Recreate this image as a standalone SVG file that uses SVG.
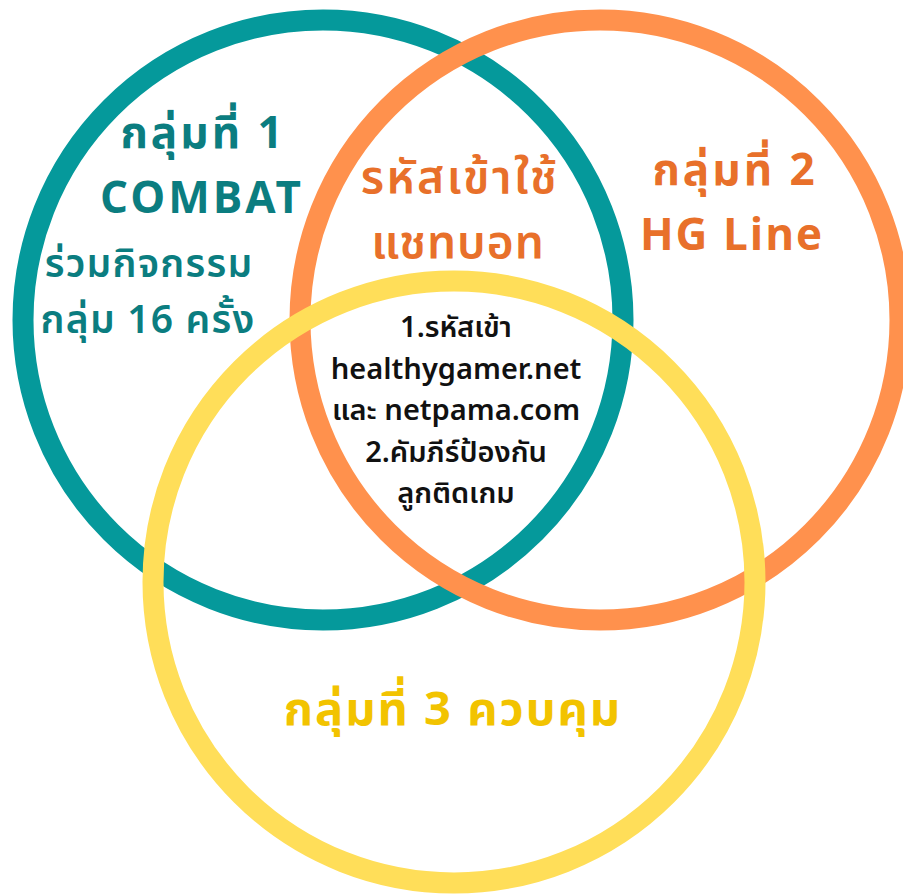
<svg xmlns="http://www.w3.org/2000/svg" width="903" height="894" viewBox="0 0 903 894">
<style>
.ring{fill:none;stroke-width:21}
.t{font-family:"Noto Sans Thai","Noto Sans","Liberation Sans",sans-serif;text-anchor:middle}
.h{font-weight:700;font-size:44px;letter-spacing:3px}
.s{font-weight:600;font-size:39px;letter-spacing:1.2px}
.teal{fill:#0B7D80}
.org{fill:#E8702A}
.yel{fill:#F2C300}
.blk{fill:#111;font-weight:600;font-size:29px}
</style>
<rect width="903" height="894" fill="#fff"/>
<g id="circle-1"><circle class="ring" cx="323" cy="320" r="300" stroke="#05999B"/></g>
<g id="circle-2"><circle class="ring" cx="600" cy="320" r="300" stroke="#FF914D"/></g>
<g id="circle-3"><circle class="ring" cx="454" cy="582" r="301" stroke="#FFDE59"/></g>
<g id="label-1">
<text class="t h teal" x="203" y="148">กลุ่มที่ 1</text>
<text class="t h teal" x="202" y="213">COMBAT</text>
<text class="t s teal" x="149" y="277">ร่วมกิจกรรม</text>
<text class="t s teal" x="148" y="333">กลุ่ม 16 ครั้ง</text>
</g>
<g id="label-2">
<text class="t h org" x="735" y="185">กลุ่มที่ 2</text>
<text class="t h org" x="732" y="250" style="letter-spacing:2px">HG Line</text>
</g>
<g id="label-12">
<text class="t s org" x="460" y="193" style="font-size:46px;letter-spacing:2.5px">รหัสเข้าใช้</text>
<text class="t s org" x="458" y="258" style="font-size:46px;letter-spacing:1px">แชทบอท</text>
</g>
<g id="label-center">
<text class="t blk" x="456" y="337">1.รหัสเข้า</text>
<text class="t blk" x="456" y="379">healthygamer.net</text>
<text class="t blk" x="456" y="420">และ netpama.com</text>
<text class="t blk" x="456" y="462">2.คัมภีร์ป้องกัน</text>
<text class="t blk" x="456" y="503">ลูกติดเกม</text>
</g>
<g id="label-3">
<text class="t h yel" x="453" y="725" style="font-size:47px;letter-spacing:2px">กลุ่มที่ 3 ควบคุม</text>
</g>
</svg>
